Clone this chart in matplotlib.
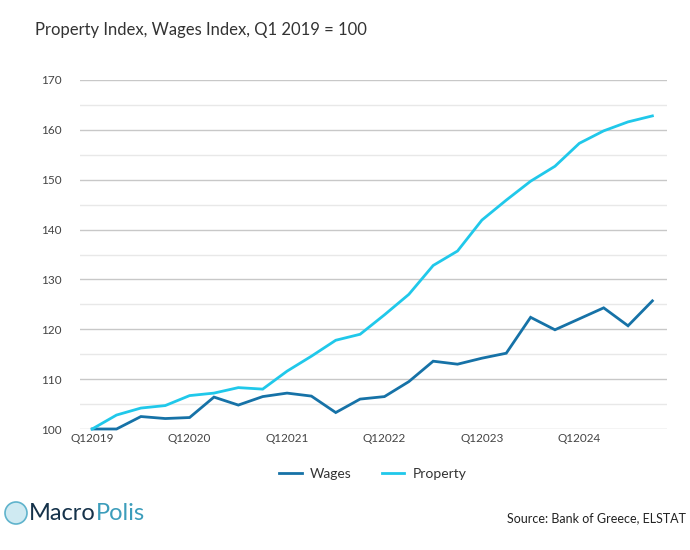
import matplotlib
matplotlib.use("Agg")
import matplotlib.pyplot as plt
from matplotlib.patches import Ellipse
from matplotlib.lines import Line2D

quarters = [f"Q{q}{y}" for y in range(2019, 2025) for q in range(1, 5)]
wages = [100.0, 100.0, 102.5, 102.1, 102.3, 106.4, 104.8, 106.5,
         107.2, 106.6, 103.3, 106.0, 106.5, 109.5, 113.6, 113.0,
         114.2, 115.2, 122.4, 119.9, 122.1, 124.3, 120.7, 125.7]
prop = [100.0, 102.8, 104.2, 104.7, 106.7, 107.2, 108.3, 108.0,
        111.6, 114.6, 117.8, 119.0, 122.9, 127.0, 132.8, 135.7,
        141.9, 145.9, 149.7, 152.7, 157.3, 159.8, 161.6, 162.8]
yticks = [100, 110, 120, 130, 140, 150, 160, 170]

plt.rcParams['font.family'] = ['Lato', 'DejaVu Sans']

fig = plt.figure(figsize=(6.9, 5.5), dpi=100)
ax = fig.add_axes([80/690, 1-429/550, (667-80)/690, (429-80)/550])

x = list(range(len(quarters)))
ax.plot(x, wages, color='#1672a7', lw=2, clip_on=False, zorder=3, solid_joinstyle='miter')
ax.plot(x, prop, color='#20c8ea', lw=2, clip_on=False, zorder=3, solid_joinstyle='miter')

ax.set_xlim(-0.5, 23.6)
ax.set_ylim(100, 170)
for v in range(100, 171, 10):
    ax.axhline(v, color='#c8c8c8', lw=1, zorder=1)
for v in range(105, 170, 10):
    ax.axhline(v, color='#e8e8e8', lw=1, zorder=1)

ax.set_yticks(yticks)
ax.set_yticklabels([str(v) for v in yticks])
ax.set_xticks(x[::4])
ax.set_xticklabels(quarters[::4])
ax.tick_params(axis='both', length=0, labelsize=8.5, colors='#444444')
ax.tick_params(axis='y', pad=13)
ax.tick_params(axis='x', pad=3)
for s in ax.spines.values():
    s.set_visible(False)

fig.text(35/690, 1-30/550, "Property Index, Wages Index, Q1 2019 = 100",
         fontsize=12, color='#333333', va='center', ha='left')

handles = [Line2D([], [], color='#1672a7', lw=2),
           Line2D([], [], color='#20c8ea', lw=2)]
fig.legend(handles, ['Wages', 'Property'], loc='center', bbox_to_anchor=(373/690, 1-474/550),
           ncol=2, frameon=False, fontsize=10, handlelength=1.6, handletextpad=0.6,
           columnspacing=2.2, labelcolor='#333333')

# logo
circ = Ellipse((16/690, 1-513/550), 22/690, 22/550, transform=fig.transFigure,
               facecolor='#cfeaf2', edgecolor='#5fb3cc', lw=1.2)
fig.patches.append(circ)
t1 = fig.text(29/690, 1-514/550, "Macro", fontsize=17, color='#15324a', va='center', ha='left')
fig.canvas.draw()
bb = t1.get_window_extent()
fig.text(bb.x1/690, 1-514/550, "Polis", fontsize=17, color='#3c9dbb', va='center', ha='left')

fig.text(686/690, 1-518/550, "Source: Bank of Greece, ELSTAT", fontsize=9,
         color='#222222', va='center', ha='right')

fig.savefig("out.png", dpi=100)
